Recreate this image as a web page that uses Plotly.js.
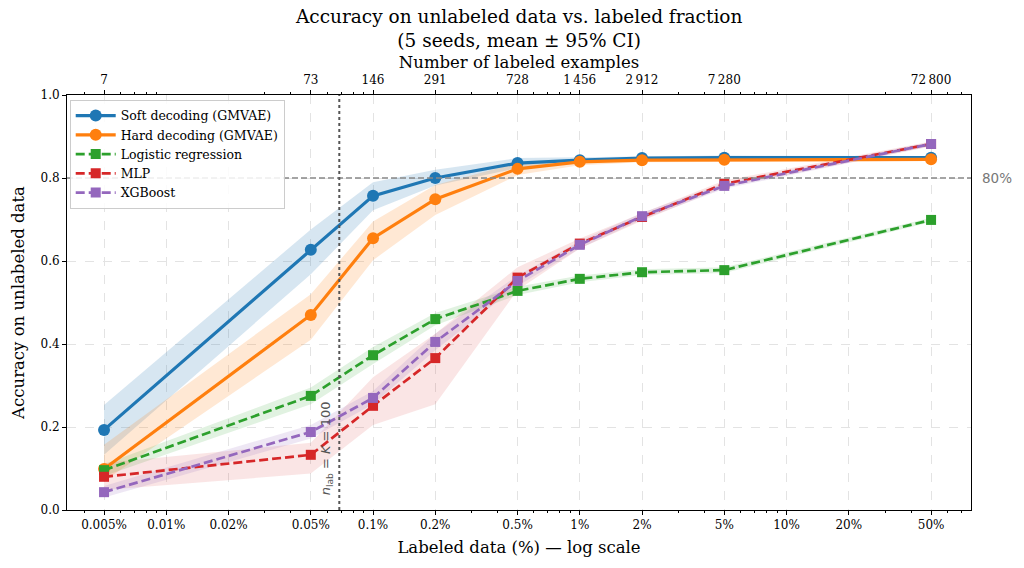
<!DOCTYPE html>
<html>
<head>
<meta charset="utf-8">
<script src="https://cdn.plot.ly/plotly-3.0.1.min.js"></script>
<style>
  html, body { margin: 0; padding: 0; background: #fff; }
  #chart { width: 1024px; height: 568px; }
</style>
</head>
<body>
<div id="chart"></div>
<script>
// Frazione etichettata (%) e numero di esempi corrispondente
const fractions = [0.005, 0.05, 0.1, 0.2, 0.5, 1, 2, 5, 50];
const xTickVals = [0.005, 0.01, 0.02, 0.05, 0.1, 0.2, 0.5, 1, 2, 5, 10, 20, 50];
const xTickText = ['0.005%', '0.01%', '0.02%', '0.05%', '0.1%', '0.2%', '0.5%', '1%', '2%', '5%', '10%', '20%', '50%'];
const topTickVals = [0.005, 0.05, 0.1, 0.2, 0.5, 1, 2, 5, 50];
const topTickText = ['7', '73', '146', '291', '728', '1\u2009456', '2\u2009912', '7\u2009280', '72\u2009800'];
const yTickVals = [0, 0.2, 0.4, 0.6, 0.8, 1.0];
const yTickText = ['0.0', '0.2', '0.4', '0.6', '0.8', '1.0'];

// Medie per metodo
const softMean = [0.193, 0.627, 0.757, 0.800, 0.836, 0.843, 0.848, 0.849, 0.849];
const hardMean = [0.099, 0.470, 0.655, 0.749, 0.822, 0.839, 0.843, 0.844, 0.845];
const logregMean = [0.096, 0.275, 0.373, 0.460, 0.528, 0.557, 0.573, 0.578, 0.699];
const mlpMean = [0.080, 0.133, 0.251, 0.366, 0.560, 0.642, 0.706, 0.786, 0.882];
const xgbMean = [0.043, 0.188, 0.270, 0.405, 0.552, 0.639, 0.708, 0.781, 0.882];

// Intervalli di confidenza al 95% (inferiore / superiore)
const softLo = [0.133, 0.568, 0.722, 0.782, 0.824, 0.836, 0.843, 0.844, 0.845];
const softHi = [0.253, 0.676, 0.790, 0.820, 0.848, 0.850, 0.853, 0.854, 0.853];
const hardLo = [0.070, 0.410, 0.602, 0.711, 0.807, 0.831, 0.838, 0.839, 0.841];
const hardHi = [0.157, 0.520, 0.695, 0.783, 0.836, 0.846, 0.848, 0.849, 0.849];
const logregLo = [0.082, 0.255, 0.352, 0.445, 0.518, 0.549, 0.566, 0.571, 0.694];
const logregHi = [0.110, 0.295, 0.393, 0.475, 0.538, 0.565, 0.580, 0.585, 0.704];
const mlpLo = [0.048, 0.088, 0.205, 0.255, 0.530, 0.630, 0.697, 0.778, 0.876];
const mlpHi = [0.113, 0.162, 0.320, 0.425, 0.585, 0.654, 0.715, 0.794, 0.888];
const xgbLo = [0.030, 0.172, 0.255, 0.385, 0.540, 0.630, 0.700, 0.774, 0.877];
const xgbHi = [0.058, 0.205, 0.287, 0.425, 0.565, 0.648, 0.716, 0.788, 0.887];

const nLab100 = 100 / 145600 * 100; // % corrispondente a n_lab = K = 100

const SERIF = "'DejaVu Serif', 'Liberation Serif', serif";
const SANS = "'DejaVu Sans', sans-serif";
const TICKFONT = { family: SERIF, size: 12, color: '#000' };
const LABELFONT = { family: SERIF, size: 16.5, color: '#000' };

const methods = [
    { name: 'Soft decoding (GMVAE)', mean: softMean, lo: softLo, hi: softHi, color: '#1f77b4', fill: 'rgba(31,119,180,0.18)', symbol: 'circle', dash: 'solid', width: 3.2, size: 12 },
    { name: 'Hard decoding (GMVAE)', mean: hardMean, lo: hardLo, hi: hardHi, color: '#ff7f0e', fill: 'rgba(255,127,14,0.18)', symbol: 'circle', dash: 'solid', width: 3.2, size: 12 },
    { name: 'Logistic regression', mean: logregMean, lo: logregLo, hi: logregHi, color: '#2ca02c', fill: 'rgba(44,160,44,0.14)', symbol: 'square', dash: '9px,4px', width: 2.7, size: 10 },
    { name: 'MLP', mean: mlpMean, lo: mlpLo, hi: mlpHi, color: '#d62728', fill: 'rgba(214,39,40,0.12)', symbol: 'square', dash: '9px,4px', width: 2.7, size: 10 },
    { name: 'XGBoost', mean: xgbMean, lo: xgbLo, hi: xgbHi, color: '#9467bd', fill: 'rgba(148,103,189,0.16)', symbol: 'square', dash: '9px,4px', width: 2.7, size: 10 },
];

const data = [];
// Bande CI sotto le linee
methods.forEach(m => {
    data.push({ type: 'scatter', mode: 'lines', x: fractions, y: m.hi, line: { width: 0 }, showlegend: false, hoverinfo: 'skip' });
    data.push({ type: 'scatter', mode: 'lines', x: fractions, y: m.lo, line: { width: 0 }, fill: 'tonexty', fillcolor: m.fill, showlegend: false, hoverinfo: 'skip' });
});
methods.forEach(m => {
    data.push({
        type: 'scatter', mode: 'lines+markers', name: m.name,
        x: fractions, y: m.mean,
        line: { color: m.color, width: m.width, dash: m.dash },
        marker: { color: m.color, symbol: m.symbol, size: m.size },
    });
});
// traccia invisibile per tenere l'asse superiore
data.push({ type: 'scatter', mode: 'markers', x: topTickVals, y: softMean, xaxis: 'x2', marker: { opacity: 0 }, showlegend: false, hoverinfo: 'skip' });

// tacche minori log (3,4,6,7,8,9 per decade)
const minorVals = [];
for (let e = -3; e <= 1; e++) {
    [3, 4, 6, 7, 8, 9].forEach(k => minorVals.push(k * Math.pow(10, e)));
}
const xRange = [Math.log10(0.00331), Math.log10(78)];

const layout = {
    width: 1024, height: 568,
    margin: { l: 67, r: 53, t: 95, b: 58 },
    paper_bgcolor: '#fff', plot_bgcolor: '#fff',
    font: { family: SERIF, color: '#000', size: 12 },
    title: {
        text: 'Accuracy on unlabeled data vs. labeled fraction<br>(5 seeds, mean \u00b1 95% CI)',
        font: { family: SERIF, size: 18.5 },
        x: 0.507, xanchor: 'center', y: 0.96, yanchor: 'top', yref: 'container',
    },
    xaxis: {
        type: 'log', range: xRange,
        tickvals: xTickVals, ticktext: xTickText, tickfont: TICKFONT,
        ticks: 'outside', ticklen: 4, tickcolor: '#000',
        showline: true, linecolor: '#000', linewidth: 1, mirror: true,
        showgrid: true, gridcolor: '#e3e3e3', griddash: 'dash', gridwidth: 1,
        zeroline: false,
        minor: { tickvals: minorVals, ticks: 'outside', ticklen: 2, tickcolor: '#000', showgrid: false },
        title: { text: 'Labeled data (%) \u2014 log scale', font: LABELFONT, standoff: 10 },
    },
    xaxis2: {
        type: 'log', range: xRange, overlaying: 'x', side: 'top',
        tickvals: topTickVals, ticktext: topTickText, tickfont: TICKFONT,
        ticks: 'outside', ticklen: 4, tickcolor: '#000', ticklabelstandoff: 1,
        minor: { tickvals: minorVals, ticks: 'outside', ticklen: 2, tickcolor: '#000', showgrid: false },
        showgrid: false, zeroline: false, showline: false,
        title: { text: 'Number of labeled examples', font: LABELFONT, standoff: 0 },
    },
    yaxis: {
        range: [0, 1], tickvals: yTickVals, ticktext: yTickText, tickfont: TICKFONT,
        ticks: 'outside', ticklen: 4, tickcolor: '#000',
        showline: true, linecolor: '#000', linewidth: 1, mirror: true,
        showgrid: true, gridcolor: '#e3e3e3', griddash: 'dash', gridwidth: 1,
        zeroline: false,
        title: { text: 'Accuracy on unlabeled data', font: LABELFONT, standoff: 11 },
    },
    legend: {
        x: 0.003, y: 0.988, xanchor: 'left', yanchor: 'top',
        bgcolor: 'rgba(255,255,255,0.85)', bordercolor: '#cccccc', borderwidth: 1,
        font: { family: SERIF, size: 12.5 },
        traceorder: 'normal', tracegroupgap: 0, itemwidth: 40,
    },
    shapes: [
        { type: 'line', xref: 'paper', x0: 0, x1: 1, yref: 'y', y0: 0.8, y1: 0.8, line: { color: '#888', width: 1.5, dash: '6px,3px' } },
        { type: 'line', xref: 'x', x0: nLab100, x1: nLab100, yref: 'paper', y0: 0, y1: 1, line: { color: '#555', width: 2, dash: 'dot' } },
    ],
    annotations: [
        { xref: 'paper', x: 1.01, xanchor: 'left', yref: 'y', y: 0.8, text: '80%', showarrow: false, font: { family: SANS, size: 13.5, color: '#777' } },
        { xref: 'x', x: Math.log10(nLab100), xanchor: 'right', xshift: -2, yref: 'y', y: 0.03, yanchor: 'bottom', textangle: -90,
          text: '<i>n</i><sub>lab</sub> = <i>K</i> = 100', showarrow: false, font: { family: SANS, size: 13, color: '#555' } },
    ],
};

Plotly.newPlot('chart', data, layout, { displayModeBar: false, staticPlot: true });
</script>
</body>
</html>
